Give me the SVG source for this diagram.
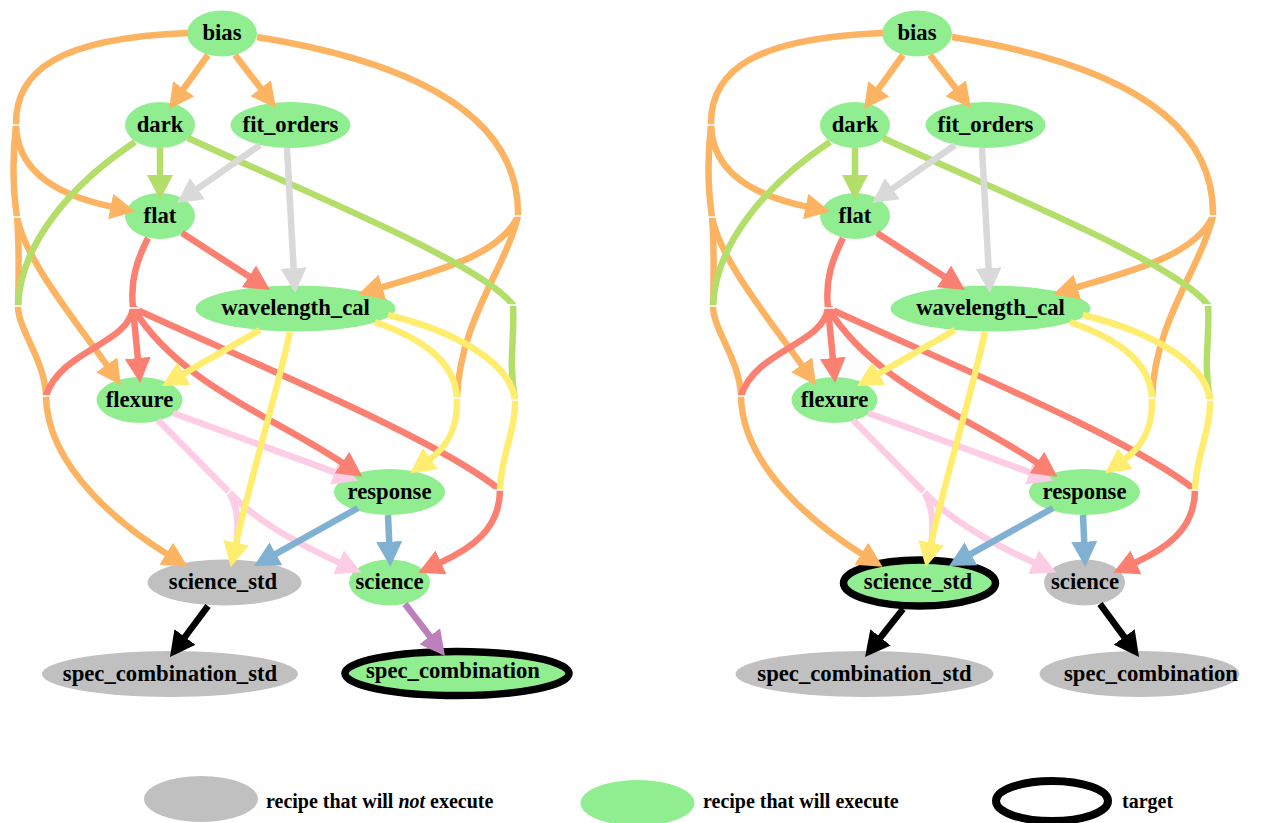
<svg xmlns="http://www.w3.org/2000/svg" xmlns:xlink="http://www.w3.org/1999/xlink" width="1265" height="823" viewBox="0 0 1265 823">
<style>
text{font-family:"Liberation Serif","Times New Roman",serif;font-weight:bold;fill:#000}
.lbl{font-size:22.7px;text-anchor:middle}
.leg{font-size:20px}
.run{fill:#90EE90}
.skip{fill:#C0C0C0}
.tgt{stroke:#000;stroke-width:7.5}
.e{fill:none;stroke-width:6.5}
.or{stroke:#FDB462}.gn{stroke:#B3DE69}.gy{stroke:#D9D9D9}.rd{stroke:#FB8072}
.ye{stroke:#FFED6F}.pk{stroke:#FCCDE5}.bl{stroke:#80B1D3}.pu{stroke:#BC80BD}.bk{stroke:#000}
.tick{stroke:#fff;stroke-width:1.6}
</style>
<defs>
<marker id="m-or" viewBox="-2 0 25 26" refX="0" refY="13" markerWidth="25" markerHeight="26" markerUnits="userSpaceOnUse" orient="auto"><path d="M-2,0L23,13L-2,26z" fill="#FDB462"/></marker>
<marker id="m-gn" viewBox="-2 0 25 26" refX="0" refY="13" markerWidth="25" markerHeight="26" markerUnits="userSpaceOnUse" orient="auto"><path d="M-2,0L23,13L-2,26z" fill="#B3DE69"/></marker>
<marker id="m-gy" viewBox="-2 0 25 26" refX="0" refY="13" markerWidth="25" markerHeight="26" markerUnits="userSpaceOnUse" orient="auto"><path d="M-2,0L23,13L-2,26z" fill="#D9D9D9"/></marker>
<marker id="m-rd" viewBox="-2 0 25 26" refX="0" refY="13" markerWidth="25" markerHeight="26" markerUnits="userSpaceOnUse" orient="auto"><path d="M-2,0L23,13L-2,26z" fill="#FB8072"/></marker>
<marker id="m-ye" viewBox="-2 0 25 26" refX="0" refY="13" markerWidth="25" markerHeight="26" markerUnits="userSpaceOnUse" orient="auto"><path d="M-2,0L23,13L-2,26z" fill="#FFED6F"/></marker>
<marker id="m-pk" viewBox="-2 0 25 26" refX="0" refY="13" markerWidth="25" markerHeight="26" markerUnits="userSpaceOnUse" orient="auto"><path d="M-2,0L23,13L-2,26z" fill="#FCCDE5"/></marker>
<marker id="m-bl" viewBox="-2 0 25 26" refX="0" refY="13" markerWidth="25" markerHeight="26" markerUnits="userSpaceOnUse" orient="auto"><path d="M-2,0L23,13L-2,26z" fill="#80B1D3"/></marker>
<marker id="m-pu" viewBox="-2 0 25 26" refX="0" refY="13" markerWidth="25" markerHeight="26" markerUnits="userSpaceOnUse" orient="auto"><path d="M-2,0L23,13L-2,26z" fill="#BC80BD"/></marker>
<marker id="m-bk" viewBox="-2 0 25 26" refX="0" refY="13" markerWidth="25" markerHeight="26" markerUnits="userSpaceOnUse" orient="auto"><path d="M-2,0L23,13L-2,26z" fill="#000"/></marker>
</defs>
<rect width="1265" height="823" fill="#fff"/>

<!-- left graph nodes -->
<g id="L-bias"><ellipse class="run" cx="222" cy="33.5" rx="35" ry="23"/><text class="lbl" x="222" y="40">bias</text></g>
<g id="L-dark"><ellipse class="run" cx="160" cy="125" rx="35" ry="23"/><text class="lbl" x="160" y="131.5">dark</text></g>
<g id="L-fit_orders"><ellipse class="run" cx="290.5" cy="125" rx="60" ry="23"/><text class="lbl" x="290.5" y="131.5">fit_orders</text></g>
<g id="L-flat"><ellipse class="run" cx="160" cy="216" rx="35" ry="23"/><text class="lbl" x="160" y="222.5">flat</text></g>
<g id="L-wavelength_cal"><ellipse class="run" cx="295.5" cy="308.5" rx="100" ry="23"/><text class="lbl" x="295.5" y="315">wavelength_cal</text></g>
<g id="L-flexure"><ellipse class="run" cx="139.5" cy="400" rx="43" ry="23"/><text class="lbl" x="139.5" y="406.5">flexure</text></g>
<g id="L-response"><ellipse class="run" cx="389.5" cy="492" rx="55.5" ry="23"/><text class="lbl" x="389.5" y="498.5">response</text></g>
<g id="L-science_std"><ellipse class="skip" cx="224.5" cy="582.5" rx="77" ry="23"/><text class="lbl" x="223" y="589">science_std</text></g>
<g id="L-science"><ellipse class="run" cx="389.5" cy="582.5" rx="40.5" ry="23"/><text class="lbl" x="389.5" y="589">science</text></g>
<g id="L-spec_combination_std"><ellipse class="skip" cx="170" cy="674" rx="128" ry="23"/><text class="lbl" x="170" y="680.5">spec_combination_std</text></g>
<g id="L-spec_combination"><ellipse class="run tgt" cx="457" cy="673.5" rx="112" ry="22"/><text class="lbl" x="453" y="677.5">spec_combination</text></g>

<!-- right graph nodes -->
<g id="R-bias"><ellipse class="run" cx="917" cy="33.5" rx="35" ry="23"/><text class="lbl" x="917" y="40">bias</text></g>
<g id="R-dark"><ellipse class="run" cx="855" cy="125" rx="35" ry="23"/><text class="lbl" x="855" y="131.5">dark</text></g>
<g id="R-fit_orders"><ellipse class="run" cx="985.5" cy="125" rx="60" ry="23"/><text class="lbl" x="985.5" y="131.5">fit_orders</text></g>
<g id="R-flat"><ellipse class="run" cx="855" cy="216" rx="35" ry="23"/><text class="lbl" x="855" y="222.5">flat</text></g>
<g id="R-wavelength_cal"><ellipse class="run" cx="990.5" cy="308.5" rx="100" ry="23"/><text class="lbl" x="990.5" y="315">wavelength_cal</text></g>
<g id="R-flexure"><ellipse class="run" cx="834.5" cy="400" rx="43" ry="23"/><text class="lbl" x="834.5" y="406.5">flexure</text></g>
<g id="R-response"><ellipse class="run" cx="1084.5" cy="492" rx="55.5" ry="23"/><text class="lbl" x="1084.5" y="498.5">response</text></g>
<g id="R-science_std"><ellipse class="run tgt" cx="919.5" cy="583" rx="76" ry="23"/><text class="lbl" x="918" y="589">science_std</text></g>
<g id="R-science"><ellipse class="skip" cx="1084.5" cy="582.5" rx="40.5" ry="23"/><text class="lbl" x="1085" y="589">science</text></g>
<g id="R-spec_combination_std"><ellipse class="skip" cx="864.5" cy="674" rx="129" ry="23"/><text class="lbl" x="864.5" y="680.5">spec_combination_std</text></g>
<g id="R-spec_combination"><ellipse class="skip" cx="1139.5" cy="674" rx="100" ry="23"/><text class="lbl" x="1151" y="680.5">spec_combination</text></g>

<!-- connectors -->
<g id="connectors">
<g id="edges-shared">
<path class="e pk" d="M173,413 L336.5,472.9" marker-end="url(#m-pk)"/>
<path class="e pk" d="M158,420 L229,492 C255,520 300,545 340.4,563.1" marker-end="url(#m-pk)"/>
<path class="e pk" d="M229,492 C240,510 238,530 236,552"/>
<path class="e or" d="M208,55 L182.5,90.4" marker-end="url(#m-or)"/>
<path class="e or" d="M235,55 L261.9,89.8" marker-end="url(#m-or)"/>
<path class="e or" d="M188,33 C60,38 15,70 16,125"/>
<path class="e or" d="M16,125 C17,170 55,195 112.6,206.9" marker-end="url(#m-or)"/>
<path class="e or" d="M16,125 C12,160 13,190 17,217 C19,240 19,270 18,306 C18,330 45,360 46,396 C47,470 128,530 168,554.7" marker-end="url(#m-or)"/>
<path class="e or" d="M17,217 C25,260 75,320 107.8,366.5" marker-end="url(#m-or)"/>
<path class="e or" d="M257,37 C400,60 520,110 518,216"/>
<path class="e or" d="M518,216 C500,255 440,270 380.4,287.7" marker-end="url(#m-or)"/>
<path class="e or" d="M518,216 C505,270 460,320 457,398"/>
<path class="e gn" d="M160,148 L160,177" marker-end="url(#m-gn)"/>
<path class="e gn" d="M135,142 C70,185 20,245 18,306"/>
<path class="e gn" d="M188,138 C300,190 480,262 513,305 C515,340 508,360 515,400"/>
<path class="e gy" d="M260,145 L195.8,189.8" marker-end="url(#m-gy)"/>
<path class="e gy" d="M287,148 L293.7,270" marker-end="url(#m-gy)"/>
<path class="e rd" d="M182,233 L250.7,277.5" marker-end="url(#m-rd)"/>
<path class="e rd" d="M148,238 C137,260 130,280 133,308"/>
<path class="e rd" d="M133,308 L138,360" marker-end="url(#m-rd)"/>
<path class="e rd" d="M133,308 C128,345 60,350 46,396"/>
<path class="e rd" d="M133,308 C180,385 280,420 343.6,463.7" marker-end="url(#m-rd)"/>
<path class="e rd" d="M133,308 C250,362 440,440 500,490 C500,530 470,549 439.2,563.2" marker-end="url(#m-rd)"/>
<path class="e ye" d="M260,330 L182,374.6" marker-end="url(#m-ye)"/>
<path class="e ye" d="M290,332 C275,400 250,480 235.7,544.7" marker-end="url(#m-ye)"/>
<path class="e ye" d="M375,322 C420,338 455,360 457,398 C458,425 450,445 428.9,459.9" marker-end="url(#m-ye)"/>
<path class="e ye" d="M388,315 C450,330 510,360 515,400 C516,430 500,460 500,490"/>
<path class="e bl" d="M358,508 L274.1,554.8" marker-end="url(#m-bl)"/>
<path class="e bl" d="M388,515 L389.3,543.7" marker-end="url(#m-bl)"/>
<line class="tick" x1="10" y1="125" x2="23" y2="125"/>
<line class="tick" x1="11" y1="217" x2="24" y2="217"/>
<line class="tick" x1="11" y1="306" x2="24" y2="306"/>
<line class="tick" x1="40" y1="396" x2="53" y2="396"/>
<line class="tick" x1="127" y1="308" x2="140" y2="308"/>
<line class="tick" x1="224" y1="497" x2="234" y2="487"/>
<line class="tick" x1="451" y1="398" x2="464" y2="398"/>
<line class="tick" x1="509" y1="400" x2="522" y2="400"/>
<line class="tick" x1="507" y1="305" x2="520" y2="305"/>
<line class="tick" x1="511" y1="216" x2="524" y2="216"/>
<line class="tick" x1="494" y1="490" x2="507" y2="490"/>
</g>
<use xlink:href="#edges-shared" href="#edges-shared" transform="translate(695,0)"/>
<path class="e bk" d="M208,606 L183.7,638.6" marker-end="url(#m-bk)"/>
<path class="e pu" d="M405,604 L431,637.8" marker-end="url(#m-pu)"/>
<path class="e bk" d="M903,609 L879.3,639" marker-end="url(#m-bk)"/>
<path class="e bk" d="M1100,604 L1125.4,638.5" marker-end="url(#m-bk)"/>
</g>

<!-- legend -->
<g id="legend-skip"><ellipse class="skip" cx="201" cy="799" rx="57" ry="23"/><text class="leg" x="266" y="808">recipe that will <tspan font-style="italic">not</tspan> execute</text></g>
<g id="legend-run"><ellipse class="run" cx="637.5" cy="803" rx="57" ry="23"/><text class="leg" x="703" y="808">recipe that will execute</text></g>
<g id="legend-target"><ellipse cx="1052" cy="801" rx="56" ry="20" fill="#fff" stroke="#000" stroke-width="8"/><text class="leg" x="1122" y="808">target</text></g>
</svg>
